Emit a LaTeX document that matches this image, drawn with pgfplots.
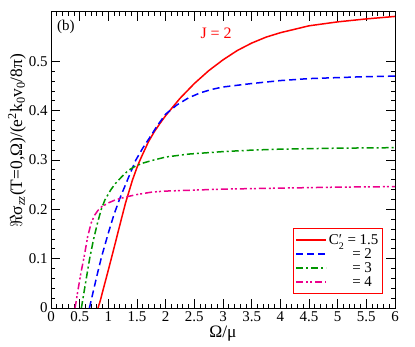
\documentclass[border=0pt]{standalone}
\usepackage{fontspec}
\setmainfont{Liberation Serif}
\usepackage{pgfplots}
\pgfplotsset{compat=1.18}

\definecolor{dgreen}{RGB}{0,150,0}

\begin{document}
\begin{tikzpicture}
\begin{axis}[
  scale only axis, width=344bp, height=296bp,
  xmin=0, xmax=6, ymin=0, ymax=0.6,
  xtick={0,0.5,...,6}, ytick={0,0.1,...,0.5},
  minor x tick num=4, minor y tick num=4,
  tick align=inside, xtick pos=both, ytick pos=both,
  major tick length=9bp, minor tick length=4bp,
  every tick/.style={black, line width=0.8bp},
  axis line style={line width=1bp},
  tick label style={font=\fontsize{15}{15}\selectfont},
  /pgf/number format/assume math mode=true,
  /pgf/number format/fixed, /pgf/number format/precision=1,
  xlabel={Ω/μ},
  ylabel={$\Re$σ\textsubscript{\textit{zz}}(T=0,Ω)/(e\textsuperscript{2}k\textsubscript{0}v\textsubscript{0}/8π)},
  label style={font=\fontsize{17.5}{18}\selectfont},
  xlabel style={yshift=3bp},
  ylabel style={at={(ticklabel cs:0.565)}, yshift=-4bp},
  legend style={at={(rel axis cs:0.965,0.047)}, anchor=south east,
    draw=red, line width=1.2bp, fill=white,
    font=\fontsize{15}{15}\selectfont, row sep=-1.5bp, inner xsep=2bp, inner ysep=4bp},
  legend cell align=left,
  legend image code/.code={\draw[#1] (0bp,0bp) -- (30bp,0bp);},
]
\addplot[red, line width=1.5bp] coordinates {
(0.82,0) (0.86,0.015) (0.9,0.033) (0.95,0.055) (1.0,0.077) (1.04,0.095) (1.1,0.122)
(1.22,0.177) (1.3,0.213) (1.42,0.259) (1.5,0.285) (1.55,0.299) (1.6,0.312) (1.7,0.337)
(1.8,0.357) (1.9,0.374) (2.0,0.39) (2.1,0.404) (2.25,0.425) (2.5,0.455) (2.75,0.481)
(3.0,0.503) (3.25,0.522) (3.5,0.537) (3.75,0.549) (4.0,0.558) (4.5,0.572) (5.0,0.580)
(5.5,0.586) (6.0,0.591)};
\addlegendentry{C\rlap{′}\raisebox{-0.35em}{\fontsize{10}{10}\selectfont 2} = 1.5}
\addplot[blue, line width=1.5bp, dash pattern=on 7bp off 4bp] coordinates {
(0.67,0) (0.75,0.04) (0.8,0.065) (0.88,0.103) (1.0,0.152) (1.1,0.19) (1.2,0.222)
(1.35,0.264) (1.48,0.3) (1.6,0.324) (1.73,0.347) (1.85,0.369) (2.0,0.393) (2.2,0.412)
(2.4,0.426) (2.6,0.436) (2.8,0.443) (3.0,0.448) (3.5,0.455) (4.0,0.461) (4.5,0.465)
(5.0,0.467) (5.5,0.469) (6.0,0.470)};
\addlegendentry{\hphantom{C2}\hspace{6bp}= 2}
\addplot[dgreen, line width=1.5bp, dash pattern=on 7bp off 3bp on 2bp off 3bp] coordinates {
(0.53,0) (0.58,0.035) (0.62,0.063) (0.674,0.1) (0.74,0.138) (0.81,0.172) (0.877,0.2)
(0.94,0.219) (1.04,0.239) (1.12,0.252) (1.25,0.268) (1.35,0.279) (1.45,0.286)
(1.58,0.293) (1.76,0.299) (2.0,0.306) (2.4,0.312) (3.0,0.317) (3.5,0.320) (4.0,0.322)
(5.0,0.324) (6.0,0.325)};
\addlegendentry{\hphantom{C2}\hspace{6bp}= 3}
\addplot[magenta, line width=1.5bp, dash pattern=on 7bp off 3bp on 2bp off 2bp on 2bp off 3bp] coordinates {
(0.42,0) (0.47,0.036) (0.52,0.07) (0.58,0.105) (0.64,0.145) (0.7,0.172) (0.76,0.188)
(0.82,0.198) (0.88,0.205) (1.0,0.213) (1.12,0.219) (1.3,0.225) (1.5,0.23) (1.76,0.235)
(2.0,0.237) (2.5,0.239) (3.0,0.241) (4.0,0.243) (5.0,0.245) (6.0,0.246)};
\addlegendentry{\hphantom{C2}\hspace{6bp}= 4}
\node[font=\fontsize{15}{15}\selectfont] at (axis cs:0.26,0.569) {(b)};
\node[red, font=\fontsize{16}{16}\selectfont] at (axis cs:2.88,0.556) {J = 2};
\end{axis}
\pgfresetboundingbox
\path ([shift={(-51bp,-38bp)}]current axis.south west) rectangle ([shift={(20bp,12bp)}]current axis.north east);
\end{tikzpicture}
\end{document}
